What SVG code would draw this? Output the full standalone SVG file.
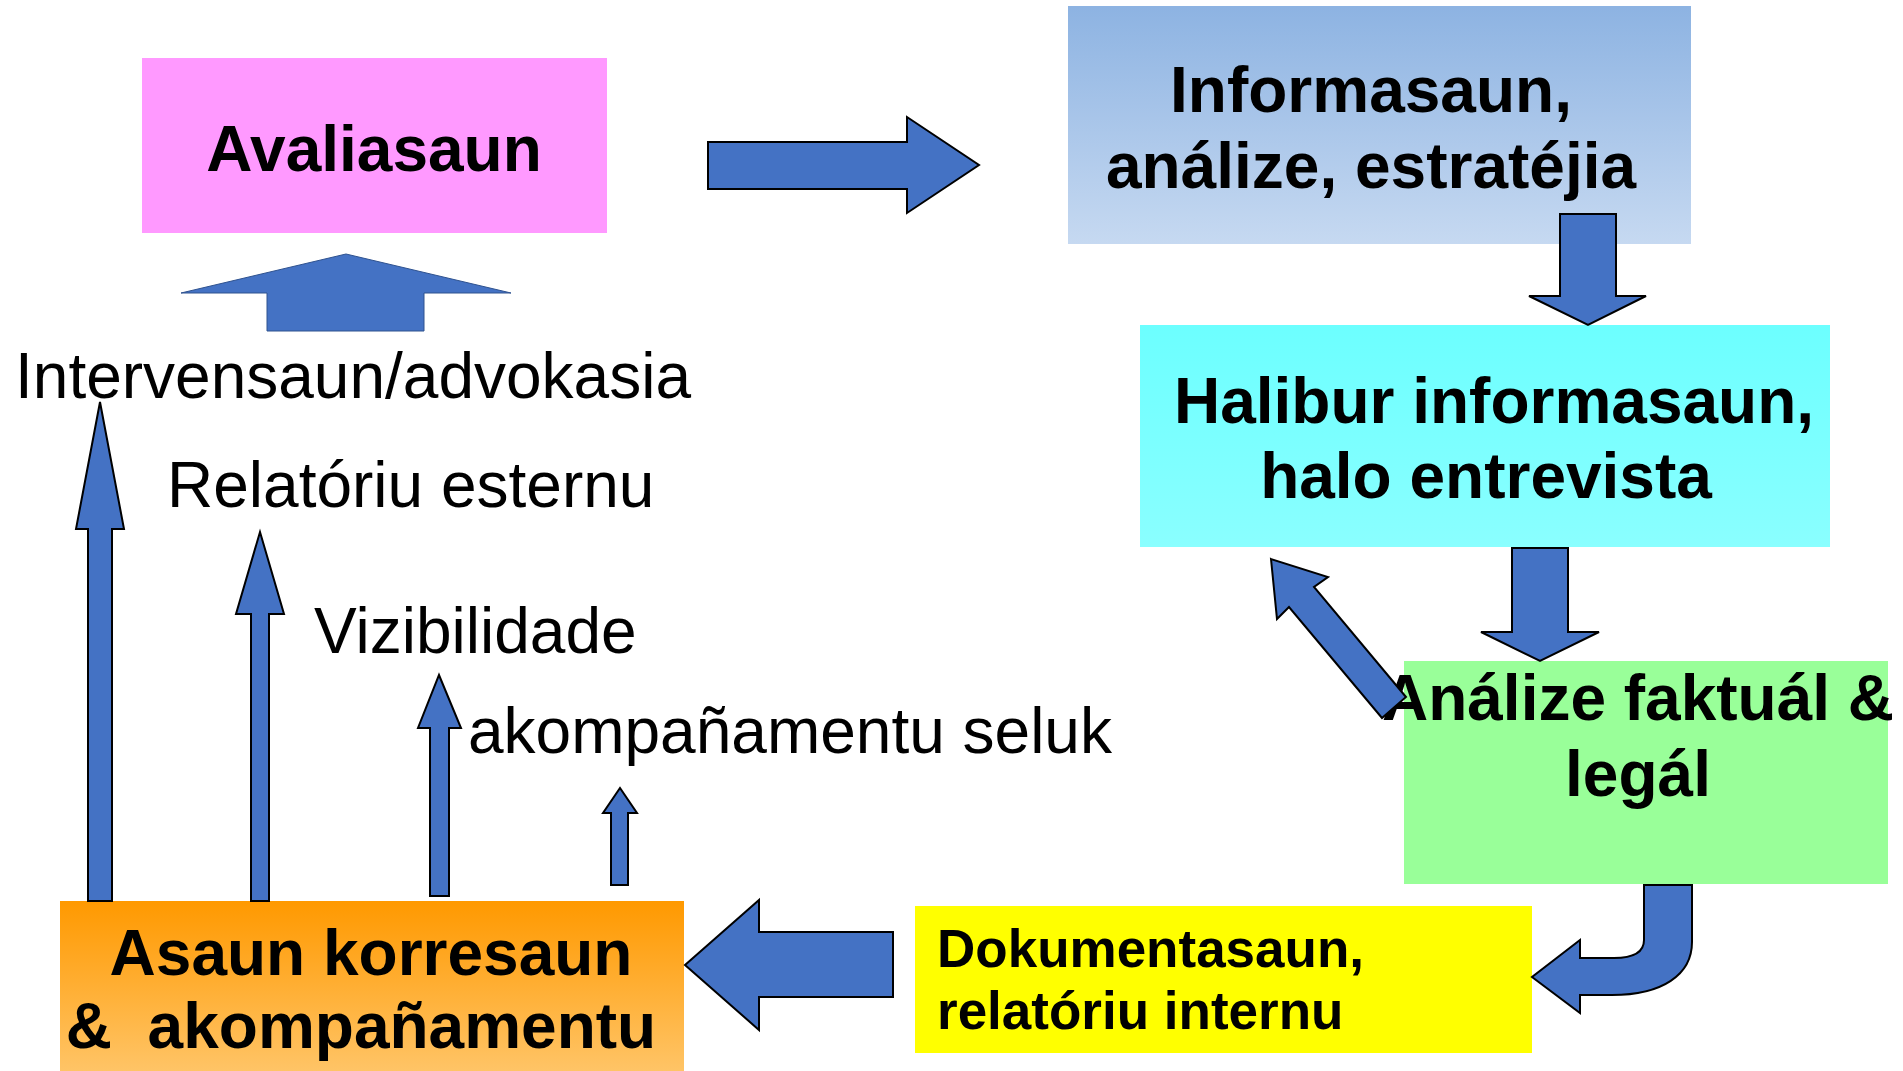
<svg xmlns="http://www.w3.org/2000/svg" width="1903" height="1071" viewBox="0 0 1903 1071">
<style>
.bt{font-family:"Liberation Sans",Arial,sans-serif;font-weight:bold;font-size:64px;fill:#000}
.nt{font-family:"Liberation Sans",Arial,sans-serif;font-size:64px;fill:#000}
.ar{fill:#4472C4;stroke:#000;stroke-width:2;stroke-linejoin:miter}
</style>
<defs>
<linearGradient id="gBlue" x1="0" y1="0" x2="0" y2="1"><stop offset="0" stop-color="#8DB3E2"/><stop offset="1" stop-color="#C6D9F1"/></linearGradient>
<linearGradient id="gCyan" x1="0" y1="0" x2="0" y2="1"><stop offset="0" stop-color="#6CFFFF"/><stop offset="1" stop-color="#8AFFFF"/></linearGradient>
<linearGradient id="gOrange" x1="0" y1="0" x2="0" y2="1"><stop offset="0" stop-color="#FF9900"/><stop offset="1" stop-color="#FFC466"/></linearGradient>
</defs>
<rect width="1903" height="1071" fill="#fff"/>
<g id="avaliasaun">
<rect x="142" y="58" width="465" height="175" fill="#FF99FF"/>
<text class="bt" x="374" y="171" text-anchor="middle">Avaliasaun</text>
</g>
<g id="informasaun">
<rect x="1068" y="6" width="623" height="238" fill="url(#gBlue)"/>
<text class="bt" x="1371" y="112" text-anchor="middle">Informasaun,</text>
<text class="bt" x="1371" y="188" text-anchor="middle">análize, estratéjia</text>
</g>
<g id="halibur">
<rect x="1140" y="325" width="690" height="222" fill="url(#gCyan)"/>
<text class="bt" x="1494" y="423" text-anchor="middle">Halibur informasaun,</text>
<text class="bt" x="1486" y="498" text-anchor="middle">halo entrevista</text>
</g>
<g id="analize">
<rect x="1404" y="661" width="484" height="223" fill="#99FF99"/>
<text class="bt" x="1638" y="720" text-anchor="middle">Análize faktuál &amp;</text>
<text class="bt" x="1638" y="796" text-anchor="middle">legál</text>
</g>
<g id="dokumentasaun">
<rect x="915" y="906" width="617" height="147" fill="#FFFF00"/>
<text class="bt" x="937" y="967" style="font-size:53px">Dokumentasaun,</text>
<text class="bt" x="937" y="1029" style="font-size:53px">relatóriu internu</text>
</g>
<g id="asaun">
<rect x="60" y="901" width="624" height="170" fill="url(#gOrange)"/>
<text class="bt" x="371" y="975" text-anchor="middle">Asaun korresaun</text>
<text class="bt" x="361" y="1048" text-anchor="middle" xml:space="preserve" style="white-space:pre">&amp;  akompañamentu</text>
</g>
<g id="labels">
<text class="nt" x="15" y="398">Intervensaun/advokasia</text>
<text class="nt" x="167" y="507">Relatóriu esternu</text>
<text class="nt" x="314" y="653">Vizibilidade</text>
<text class="nt" x="468" y="753">akompañamentu seluk</text>
</g>
<g id="connectors">
<path d="M267,331 L267,293 L181,293 L346,254 L511,293 L424,293 L424,331 Z" fill="#4472C4" stroke="#2F528F" stroke-width="1"/>
<path class="ar" d="M708,142 L907,142 L907,117 L979,165 L907,213 L907,189 L708,189 Z"/>
<path class="ar" d="M1560,214 L1616,214 L1616,296 L1646,296 L1588,325 L1529,296 L1560,296 Z"/>
<path class="ar" d="M1512,548 L1568,548 L1568,632 L1599,632 L1540,661 L1481,632 L1512,632 Z"/>
<path class="ar" d="M1406,697 L1314,587 L1328,577 L1271,559 L1277,619 L1289,607 L1382,718 Z"/>
<path class="ar" d="M1644,885 L1692,885 L1692,942 C1692,975 1662,995 1612,995 L1580,995 L1580,1013 L1532,977 L1580,940 L1580,958 L1614,958 C1634,958 1644,952 1644,940 Z"/>
<path class="ar" d="M893,932 L759,932 L759,900 L685,965 L759,1030 L759,997 L893,997 Z"/>
<path class="ar" d="M88,901 L88,529 L76,529 L100,402 L124,529 L112,529 L112,901 Z"/>
<path class="ar" d="M251,901 L251,614 L236,614 L260,532 L284,614 L269,614 L269,901 Z"/>
<path class="ar" d="M430,896 L430,728 L418,728 L439,675 L461,728 L449,728 L449,896 Z"/>
<path class="ar" d="M611,885 L611,813 L603,813 L620,788 L637,813 L628,813 L628,885 Z"/>
</g>
</svg>
